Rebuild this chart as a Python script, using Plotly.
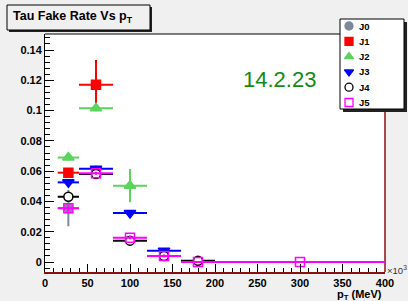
import plotly.graph_objects as go

# ---- data ----
series_names = ["J0", "J1", "J2", "J3", "J4", "J5"]
j0_x = [27.5]
j0_xerr = [12.5]
j0_y = [0.0356]
j0_yerr = [0.012]

j1_x = [27.5, 60]
j1_xerr = [12.5, 20]
j1_y = [0.059, 0.117]
j1_yerr = [0.003, 0.0165]

j2_x = [27.5, 60, 100]
j2_xerr = [12.5, 20, 20]
j2_y = [0.069, 0.1015, 0.0504]
j2_yerr = [0.002, 0.002, 0.011]

j3_x = [27.5, 60, 100, 140]
j3_xerr = [12.5, 20, 20, 20]
j3_y = [0.0526, 0.0616, 0.0324, 0.0075]
j3_yerr = [0.002, 0.002, 0.001, 0.001]

j4_x = [27.5, 60, 100, 140, 180]
j4_xerr = [12.5, 20, 20, 20, 20]
j4_y = [0.0431, 0.0581, 0.0141, 0.004, 0.0008]
j4_yerr = [0.003, 0.001, 0.001, 0.001, 0.0005]

j5_x = [27.5, 60, 100, 140, 180, 300]
j5_xerr = [12.5, 20, 20, 20, 20, 100]
j5_y = [0.0355, 0.0586, 0.0161, 0.004, 0.0, 0.0]
j5_yerr = [0.002, 0.001, 0.001, 0.001, 0.0, 0.0]

x_ticks = [0, 50, 100, 150, 200, 250, 300, 350, 400]
y_ticks = [0, 0.02, 0.04, 0.06, 0.08, 0.1, 0.12, 0.14]
y_tick_labels = ["0", "0.02", "0.04", "0.06", "0.08", "0.1", "0.12", "0.14"]

W, H = 408, 301
L, R, T, B = 45, 385, 34, 272
FONT = "Liberation Sans, Arial"


def px(x):
    return x / W


def py(y):
    return 1 - y / H


styles = [
    dict(color="#7b8a98", symbol="circle", size=9, fill="#7b8a98"),
    dict(color="#ff0000", symbol="square", size=9, fill="#ff0000"),
    dict(color="#5cd35c", symbol="triangle-up", size=10, fill="#5cd35c"),
    dict(color="#0000ff", symbol="triangle-down", size=10, fill="#0000ff"),
    dict(color="#000000", symbol="circle", size=9, fill="white"),
    dict(color="#ff00ff", symbol="square-open", size=9, fill="#ff00ff"),
]

data = [
    (j0_x, j0_xerr, j0_y, j0_yerr),
    (j1_x, j1_xerr, j1_y, j1_yerr),
    (j2_x, j2_xerr, j2_y, j2_yerr),
    (j3_x, j3_xerr, j3_y, j3_yerr),
    (j4_x, j4_xerr, j4_y, j4_yerr),
    (j5_x, j5_xerr, j5_y, j5_yerr),
]

fig = go.Figure()
for name, (xs, xe, ys, ye), st in zip(series_names, data, styles):
    fig.add_trace(go.Scatter(
        x=xs, y=ys, name=name, mode="markers", showlegend=False,
        xaxis="x", yaxis="y",
        marker=dict(color=st["fill"], symbol=st["symbol"], size=st["size"],
                    line=dict(color=st["color"], width=1.5)),
        error_x=dict(type="data", array=xe, color=st["color"], thickness=2, width=0),
        error_y=dict(type="data", array=ye, color=st["color"], thickness=2, width=0),
    ))

# ---- hand-drawn legend (ROOT style) in a pixel-space overlay ----
leg_marker_x = 349
leg_text_x = 357
leg_top = 26
leg_step = 15.3
leg_ys = [leg_top + i * leg_step for i in range(len(series_names))]
fig.add_trace(go.Scatter(
    x=[leg_marker_x] * len(series_names), y=leg_ys, xaxis="x2", yaxis="y2",
    mode="markers", showlegend=False, hoverinfo="skip",
    marker=dict(color=[s["fill"] for s in styles], symbol=[s["symbol"] for s in styles],
                size=8, line=dict(color=[s["color"] for s in styles], width=1.3)),
))

shapes = [
    # white frame area
    dict(type="rect", xref="paper", yref="paper", x0=px(L), x1=px(R), y0=py(B), y1=py(T),
         fillcolor="white", line=dict(width=0), layer="below"),
    # frame top (black) and right (dark red)
    dict(type="line", xref="paper", yref="paper", x0=px(L), x1=px(R), y0=py(T), y1=py(T),
         line=dict(color="black", width=1), layer="below"),
    dict(type="line", xref="paper", yref="paper", x0=px(R), x1=px(R), y0=py(B), y1=py(T),
         line=dict(color="#8a1010", width=1.5), layer="below"),
    # legend shadow + box
    dict(type="rect", xref="paper", yref="paper", x0=px(343), x1=px(407), y0=py(112), y1=py(22),
         fillcolor="#222222", line=dict(width=0), layer="below"),
    dict(type="rect", xref="paper", yref="paper", x0=px(340), x1=px(404), y0=py(109), y1=py(19),
         fillcolor="white", line=dict(color="black", width=1), layer="below"),
    # title box shadow + box
    dict(type="rect", xref="paper", yref="paper", x0=px(9), x1=px(152), y0=py(32), y1=py(7),
         fillcolor="#222222", line=dict(width=0), layer="below"),
    dict(type="rect", xref="paper", yref="paper", x0=px(7), x1=px(150), y0=py(30), y1=py(5),
         fillcolor="#f0f0f0", line=dict(color="black", width=1), layer="below"),
]

annotations = [
    dict(text="<b>Tau Fake Rate Vs p<sub>T</sub></b>", xref="paper", yref="paper",
         x=px(11), y=py(17.5), xanchor="left", yanchor="middle", showarrow=False,
         font=dict(family=FONT, size=12.5, color="black")),
    dict(text="14.2.23", x=276, y=0.1205, xref="x", yref="y", showarrow=False,
         xanchor="center", yanchor="middle",
         font=dict(family=FONT, size=22, color="#138a13")),
    dict(text="×10<sup>3</sup>", xref="paper", yref="paper", x=px(385), y=py(270),
         xanchor="left", yanchor="middle", showarrow=False,
         font=dict(family=FONT, size=9.5, color="#333333")),
    dict(text="<b>p<sub>T</sub> (MeV)</b>", xref="paper", yref="paper", x=px(384), y=py(295),
         xanchor="right", yanchor="middle", showarrow=False,
         font=dict(family=FONT, size=11, color="black")),
]
for name, ly in zip(series_names, leg_ys):
    annotations.append(dict(text=f"<b>{name}</b>", xref="paper", yref="paper",
                            x=px(leg_text_x), y=py(ly), xanchor="left", yanchor="middle",
                            showarrow=False, font=dict(family=FONT, size=9.5, color="black")))

fig.update_layout(
    width=W, height=H,
    margin=dict(l=0, r=0, t=0, b=0, pad=0),
    paper_bgcolor="#f0f0f0", plot_bgcolor="rgba(0,0,0,0)",
    showlegend=False,
    shapes=shapes, annotations=annotations,
    font=dict(family=FONT),
    xaxis=dict(domain=[L / W, R / W], range=[0, 400], tickvals=x_ticks,
               ticktext=[f"<b>{v}</b>" for v in x_ticks], anchor="y",
               ticks="inside", ticklen=8, tickcolor="black", tickwidth=1,
               showgrid=False, zeroline=False, showline=True, linecolor="#8a1010", linewidth=1.5,
               minor=dict(ticks="inside", ticklen=4, dtick=10, tick0=0, tickcolor="black",
                          showgrid=False),
               tickfont=dict(size=11, color="black"), automargin=False),
    yaxis=dict(domain=[1 - B / H, 1 - T / H], range=[-0.0066, 0.1506], tickvals=y_ticks,
               ticktext=[f"<b>{t}</b>" for t in y_tick_labels], anchor="x",
               ticks="inside", ticklen=9, tickcolor="black", tickwidth=1,
               showgrid=False, zeroline=False, showline=True, linecolor="black", linewidth=1,
               minor=dict(ticks="inside", ticklen=5, dtick=0.004, tick0=0, tickcolor="black",
                          showgrid=False),
               tickfont=dict(size=11, color="black"), automargin=False),
    xaxis2=dict(domain=[0, 1], range=[0, W], visible=False, anchor="y2", fixedrange=True),
    yaxis2=dict(domain=[0, 1], range=[H, 0], visible=False, anchor="x2", fixedrange=True),
)

fig.write_html("out.html", config={"displayModeBar": False},
               post_script="document.body.style.margin='0px';"
                           "document.body.style.background='#f0f0f0';")
